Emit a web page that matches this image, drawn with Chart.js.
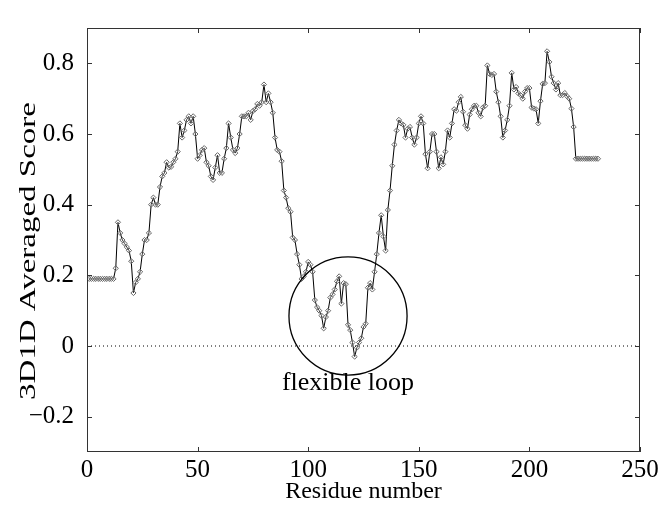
<!DOCTYPE html>
<html>
<head>
<meta charset="utf-8">
<script src="https://cdn.jsdelivr.net/npm/chart.js@4"></script>
<style>
  html, body { margin: 0; padding: 0; background: #fff; }
  #wrap { width: 664px; height: 507px; }
</style>
</head>
<body>
<div id="wrap"><canvas id="chart" width="664" height="507"></canvas></div>
<script>
// datos (residuos 1..231)
const residuos = [];
for (let i = 1; i <= 231; i++) residuos.push(i);

const score = [
  0.19, 0.19, 0.19, 0.19, 0.19, 0.19, 0.19, 0.19, 0.19, 0.19,   // 1-10
  0.19, 0.19, 0.22, 0.35, 0.32, 0.30, 0.29, 0.28, 0.27, 0.24,   // 11-20
  0.15, 0.18, 0.19, 0.21, 0.26, 0.30, 0.30, 0.32, 0.40, 0.42,   // 21-30
  0.40, 0.40, 0.45, 0.48, 0.49, 0.52, 0.505, 0.507, 0.52, 0.53, // 31-40
  0.55, 0.63, 0.59, 0.61, 0.64, 0.65, 0.63, 0.65, 0.60, 0.53,   // 41-50
  0.54, 0.555, 0.56, 0.52, 0.51, 0.48, 0.47, 0.505, 0.54, 0.49, // 51-60
  0.49, 0.53, 0.56, 0.63, 0.59, 0.555, 0.546, 0.56, 0.60, 0.65, // 61-70
  0.65, 0.65, 0.66, 0.64, 0.665, 0.67, 0.685, 0.68, 0.69, 0.74, // 71-80
  0.69, 0.715, 0.69, 0.66, 0.59, 0.555, 0.55, 0.523, 0.44, 0.42, // 81-90
  0.39, 0.38, 0.307, 0.30, 0.26, 0.23, 0.19, 0.197, 0.21, 0.238, // 91-100
  0.23, 0.21, 0.13, 0.11, 0.10, 0.086, 0.05, 0.082, 0.10, 0.137, // 101-110
  0.146, 0.16, 0.183, 0.197, 0.12, 0.178, 0.175, 0.06, 0.045, 0.01, // 111-120
  -0.03, -0.005, 0.01, 0.022, 0.054, 0.063, 0.165, 0.178, 0.16, 0.21, // 121-130
  0.26, 0.32, 0.37, 0.31, 0.27, 0.385, 0.44, 0.51, 0.57, 0.61,  // 131-140
  0.64, 0.63, 0.626, 0.59, 0.615, 0.62, 0.59, 0.57, 0.59, 0.63, // 141-150
  0.65, 0.63, 0.543, 0.503, 0.55, 0.60, 0.60, 0.55, 0.503, 0.534, // 151-160
  0.514, 0.55, 0.61, 0.59, 0.63, 0.67, 0.666, 0.69, 0.705, 0.663, // 161-170
  0.625, 0.615, 0.655, 0.67, 0.68, 0.68, 0.66, 0.65, 0.675, 0.68, // 171-180
  0.794, 0.77, 0.767, 0.77, 0.72, 0.69, 0.65, 0.59, 0.61, 0.64, // 181-190
  0.68, 0.773, 0.726, 0.733, 0.715, 0.71, 0.70, 0.72, 0.73, 0.73, // 191-200
  0.675, 0.672, 0.67, 0.63, 0.693, 0.742, 0.744, 0.834, 0.804, 0.762, // 201-210
  0.744, 0.726, 0.744, 0.71, 0.71, 0.716, 0.707, 0.70, 0.672, 0.62, // 211-220
  0.53, 0.53, 0.53, 0.53, 0.53, 0.53, 0.53, 0.53, 0.53, 0.53,   // 221-230
  0.53                                                          // 231
];

const xTicks = [0, 50, 100, 150, 200, 250];
const yTicks = [-0.2, 0, 0.2, 0.4, 0.6, 0.8];
const lineaCero = [{ x: 0, y: 0 }, { x: 250, y: 0 }];
const tituloY = '3D1D Averaged Score';

// anotacion del lazo flexible
const lazoCentro = { x: 118, y: 0.085 };
const lazoRadio = 26.7;          // en unidades de residuo
const lazoTexto = 'flexible loop';
const lazoTextoY = -0.104;

const serif = '"Liberation Serif", "DejaVu Serif", serif';

// marco con marcas hacia adentro (estilo matlab)
const marcoPlugin = {
  id: 'marco',
  afterDatasetsDraw(chart) {
    const { ctx, chartArea: a, scales } = chart;
    ctx.save();
    ctx.strokeStyle = '#333';
    ctx.lineWidth = 1;
    ctx.strokeRect(a.left + 0.5, a.top + 0.5, a.right - a.left - 1, a.bottom - a.top - 1);
    const L = 5;
    ctx.beginPath();
    xTicks.forEach(v => {
      const px = Math.round(scales.x.getPixelForValue(v)) + 0.5;
      ctx.moveTo(px, a.bottom); ctx.lineTo(px, a.bottom - L);
      ctx.moveTo(px, a.top); ctx.lineTo(px, a.top + L);
    });
    yTicks.forEach(v => {
      const py = Math.round(scales.y.getPixelForValue(v)) + 0.5;
      ctx.moveTo(a.left, py); ctx.lineTo(a.left + L, py);
      ctx.moveTo(a.right, py); ctx.lineTo(a.right - L, py);
    });
    ctx.stroke();

    // circulo y texto
    const cx = scales.x.getPixelForValue(lazoCentro.x);
    const cy = scales.y.getPixelForValue(lazoCentro.y);
    const r = scales.x.getPixelForValue(lazoCentro.x + lazoRadio) - cx;
    ctx.strokeStyle = '#000';
    ctx.lineWidth = 1.3;
    ctx.beginPath();
    ctx.arc(cx, cy, r, 0, Math.PI * 2);
    ctx.stroke();
    ctx.fillStyle = '#000';
    ctx.font = '26px ' + serif;
    ctx.textAlign = 'center';
    ctx.textBaseline = 'middle';
    ctx.fillText(lazoTexto, cx, scales.y.getPixelForValue(lazoTextoY));

    // titulo del eje y, estirado a lo largo como en la figura original
    ctx.font = '23px ' + serif;
    const w = ctx.measureText(tituloY).width;
    const largo = 298;
    ctx.translate(35, (scales.y.getPixelForValue(0.27) + 0.5));
    ctx.rotate(-Math.PI / 2);
    ctx.scale(largo / w, 1);
    ctx.textBaseline = 'alphabetic';
    ctx.fillText(tituloY, 0, 0);
    ctx.restore();
  }
};

new Chart(document.getElementById('chart'), {
  type: 'line',
  data: {
    datasets: [
      {
        label: 'cero',
        data: lineaCero,
        borderColor: '#000',
        borderWidth: 1,
        borderDash: [1, 3],
        pointRadius: 0
      },
      {
        label: '3D1D',
        data: residuos.map((r, i) => ({ x: r, y: score[i] })),
        borderColor: '#000',
        borderWidth: 1,
        pointStyle: 'rectRot',
        pointRadius: 2.6,
        pointBorderColor: '#666',
        pointBackgroundColor: 'rgba(255,255,255,0.2)',
        pointBorderWidth: 1,
        tension: 0
      }
    ]
  },
  options: {
    responsive: false,
    animation: false,
    layout: { padding: { left: 0, right: 24, top: 16, bottom: 0 } },
    plugins: { legend: { display: false }, tooltip: { enabled: false } },
    scales: {
      x: {
        type: 'linear',
        min: 0,
        max: 250,
        afterBuildTicks: s => { s.ticks = xTicks.map(v => ({ value: v })); },
        afterFit: s => { s.height = 55; },
        grid: { display: false, drawTicks: false },
        border: { display: false },
        ticks: { color: '#000', padding: 3, maxRotation: 0, font: { family: serif, size: 25 } },
        title: { display: true, text: 'Residue number', color: '#000', padding: { top: 0, bottom: 1 }, font: { family: serif, size: 24 } }
      },
      y: {
        type: 'linear',
        min: -0.3,
        max: 0.9,
        afterBuildTicks: s => { s.ticks = yTicks.map(v => ({ value: v })); },
        afterFit: s => { s.width = 87; },
        grid: { display: false, drawTicks: false },
        border: { display: false },
        ticks: {
          color: '#000',
          padding: 13,
          font: { family: serif, size: 25 },
          callback: v => (v === 0 ? '0' : String(Math.round(v * 10) / 10).replace('-', '\u2212'))
        },
        title: { display: false }
      }
    }
  },
  plugins: [marcoPlugin]
});
</script>
</body>
</html>
